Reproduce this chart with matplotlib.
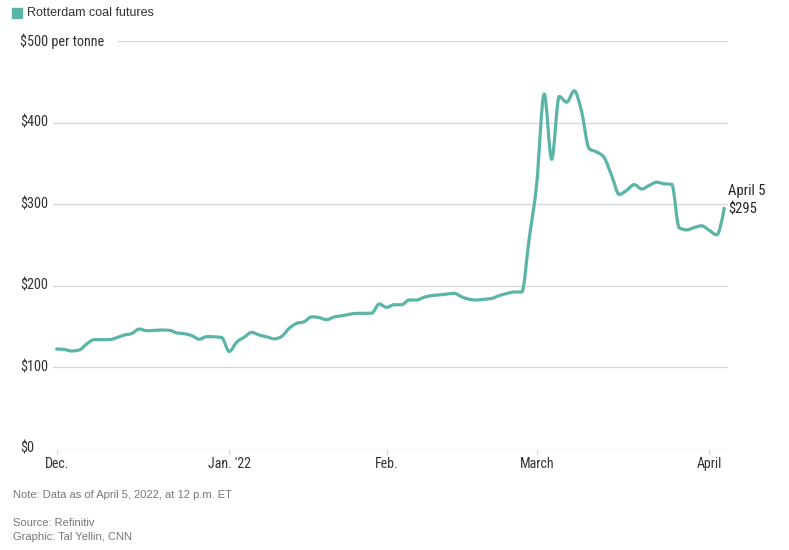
import matplotlib
matplotlib.use("Agg")
import matplotlib.pyplot as plt
from matplotlib import font_manager
from matplotlib.path import Path
from matplotlib.patches import PathPatch
from matplotlib.transforms import blended_transform_factory
import pandas as pd
import numpy as np

# ---- data ----
dates = pd.bdate_range("2021-12-01", "2022-04-05")  # trading days
prices = [
    122.5, 122.0, 120.1, 121.3, 128.7, 134.0, 134.0, 134.0, 136.4, 139.6,
    141.5, 147.0, 145.0, 145.3, 145.8, 145.5, 142.3, 141.3, 139.0, 134.5,
    137.7, 137.5, 136.5, 119.5, 131.0, 137.0, 143.0, 139.7, 137.5, 135.0,
    138.0, 148.0, 154.0, 156.0, 162.0, 161.0, 158.5, 161.8, 163.3, 165.0,
    166.3, 166.3, 166.5, 177.7, 173.6, 176.8, 176.8, 182.6, 182.6, 186.0,
    188.0, 188.8, 189.8, 190.8, 186.5, 183.5, 182.6, 183.5, 184.5, 188.0,
    190.5, 192.4, 192.4, 258.0, 325.0, 435.0, 355.0, 432.0, 425.0, 439.0,
    413.0, 368.0, 364.0, 357.0, 335.0, 312.0, 317.0, 324.0, 318.6, 323.0,
    327.0, 325.0, 324.5, 271.0, 268.5, 271.5, 273.5, 268.0, 262.5, 295.0,
]
series_name = "Rotterdam coal futures"
y_ticks = [0, 100, 200, 300, 400, 500]
y_tick_labels = ["$0", "$100", "$200", "$300", "$400", "$500 per tonne"]
month_ticks = ["2021-12-01", "2022-01-03", "2022-02-01", "2022-03-01", "2022-04-01"]
month_labels = ["Dec.", "Jan. '22", "Feb.", "March", "April"]
end_label = "April 5\n$295"
note = "Note: Data as of April 5, 2022, at 12 p.m. ET"
source = "Source: Refinitiv\nGraphic: Tal Yellin, CNN"

# ---- style ----
W, H = 789, 550
LINE = "#5bb5a7"
GRID = "#d6d6d6"
TXT = "#333333"
SANS = ["Liberation Sans", "DejaVu Sans"]

names = {f.name for f in font_manager.fontManager.ttflist}
cond_fp = None
for cand in ["Roboto Condensed", "Liberation Sans Narrow", "Open Sans Condensed",
             "DejaVu Sans Condensed"]:
    if cand in names:
        cond_fp = dict(family=[cand, "DejaVu Sans"])
        break
if cond_fp is None:
    cond_fp = dict(family=["DejaVu Sans"], stretch="condensed")


def monotone_path(x, y):
    """Monotone cubic (d3 curveMonotoneX style) as a Bezier path."""
    x = np.asarray(x, float)
    y = np.asarray(y, float)
    n = len(x)
    h = np.diff(x)
    s = np.diff(y) / h
    m = np.zeros(n)
    for i in range(1, n - 1):
        if s[i - 1] * s[i] <= 0:
            m[i] = 0.0
        else:
            p = (s[i - 1] * h[i] + s[i] * h[i - 1]) / (h[i - 1] + h[i])
            m[i] = (np.sign(s[i - 1]) + np.sign(s[i])) * min(abs(s[i - 1]), abs(s[i]), 0.5 * abs(p))
    m[0] = (3 * s[0] - m[1]) / 2 if n > 2 else s[0]
    m[-1] = (3 * s[-1] - m[-2]) / 2 if n > 2 else s[-1]
    verts = [(x[0], y[0])]
    codes = [Path.MOVETO]
    for i in range(n - 1):
        dx = h[i] / 3
        verts += [(x[i] + dx, y[i] + m[i] * dx),
                  (x[i + 1] - dx, y[i + 1] - m[i + 1] * dx),
                  (x[i + 1], y[i + 1])]
        codes += [Path.CURVE4] * 3
    return Path(verts, codes)


fig = plt.figure(figsize=(W / 100, H / 100), dpi=100)
fig.patch.set_facecolor("white")

l, r, t, b = 53, 728, 41, 449
ax = fig.add_axes([l / W, 1 - b / H, (r - l) / W, (b - t) / H])
ax.set_facecolor("white")

idx = np.arange(len(prices))
date_pos = {d: i for i, d in enumerate(dates)}
x0 = -(56.7 - l) / 7.5
x1 = (r - 56.7) / 7.5
ax.set_xlim(x0, x1)
ax.set_ylim(0, 500)

for s in ax.spines.values():
    s.set_visible(False)
ax.set_yticks([])

for v in y_ticks:
    xmin = (118 - l) / (r - l) if v == 500 else 0.0
    ax.axhline(v, xmin=xmin, xmax=1, color=GRID, lw=0.9, zorder=1)

tr = blended_transform_factory(fig.transFigure, ax.transData)
for v, lab in zip(y_ticks, y_tick_labels):
    ax.text(20 / W, v, lab, transform=tr, ha="left", va="center",
            fontsize=10.3, color=TXT, **cond_fp)

tick_pos = [date_pos[pd.Timestamp(d)] for d in month_ticks]
ax.set_xticks(tick_pos)
ax.set_xticklabels(month_labels, fontsize=10, color=TXT, **cond_fp)
ax.tick_params(axis="x", length=4, color=GRID, width=0.9, pad=2)

curve = PathPatch(monotone_path(idx, prices), facecolor="none", edgecolor=LINE,
                  lw=2.3, joinstyle="round", capstyle="round", zorder=3)
ax.add_patch(curve)

ax.annotate(end_label, xy=(idx[-1], prices[-1]), xytext=(3, 6),
            textcoords="offset points", ha="left", va="center",
            fontsize=10.5, color="#222222", linespacing=1.4, **cond_fp)

fig.patches.append(plt.Rectangle((12 / W, 1 - 18 / H), 10 / W, 10 / H,
                                 transform=fig.transFigure, color=LINE))
fig.text(27 / W, 1 - 13 / H, series_name, ha="left", va="center",
         fontsize=9, color=TXT, family=SANS)

fig.text(13 / W, 1 - 495 / H, note, ha="left", va="center",
         fontsize=8, color="#777777", family=SANS)
fig.text(13 / W, 1 - 530 / H, source, ha="left", va="center",
         fontsize=8, color="#777777", family=SANS, linespacing=1.5)

fig.savefig("out.png", dpi=100, facecolor="white")
